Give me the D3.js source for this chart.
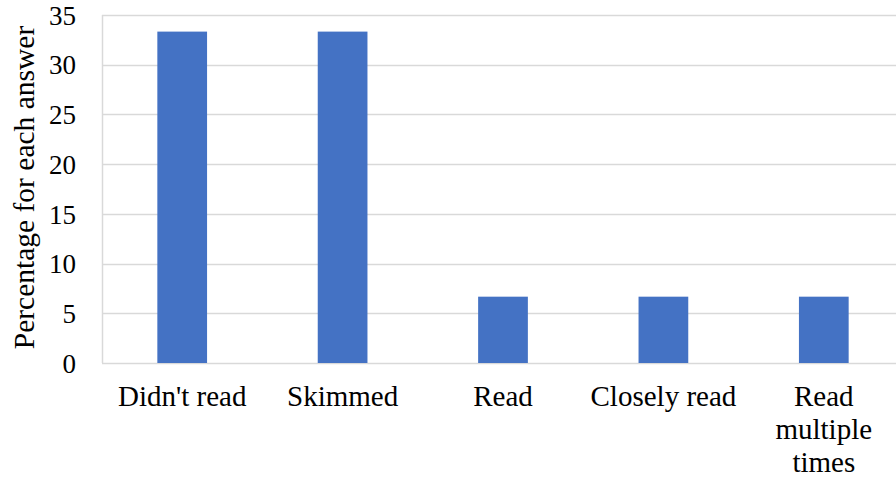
<!DOCTYPE html>
<html>
<head>
<meta charset="utf-8">
<script src="https://cdn.jsdelivr.net/npm/d3@7/dist/d3.min.js"></script>
<style>
  html, body { margin: 0; padding: 0; background: #fff; }
  svg { display: block; }
</style>
</head>
<body>
<svg id="chart" width="896" height="479"></svg>
<script>
// Reading behaviour survey: share of respondents per answer
const categories = ["Didn't read", "Skimmed", "Read", "Closely read", "Read multiple times"];
const categoryLines = [["Didn't read"], ["Skimmed"], ["Read"], ["Closely read"], ["Read", "multiple", "times"]];
const percentages = [33.33, 33.33, 6.67, 6.67, 6.67];
const yTicks = [0, 5, 10, 15, 20, 25, 30, 35];
const yTitle = "Percentage for each answer";

const FONT = '"Liberation Serif", "Times New Roman", serif';
const svg = d3.select("#chart")
  .attr("font-family", FONT)
  .style("font-family", FONT);
const plot = { left: 102, right: 904, top: 15, bottom: 363 };

const x = d3.scaleBand()
  .domain(categories)
  .range([plot.left, plot.right])
  .paddingInner(0.69)
  .paddingOuter(0.345);

const y = d3.scaleLinear()
  .domain([0, 35])
  .range([plot.bottom, plot.top]);

// Horizontal gridlines
svg.append("g")
  .selectAll("line")
  .data(yTicks)
  .join("line")
  .attr("x1", plot.left)
  .attr("x2", plot.right)
  .attr("y1", d => Math.round(y(d)) + 0.5)
  .attr("y2", d => Math.round(y(d)) + 0.5)
  .attr("stroke", "#d9d9d9")
  .attr("stroke-width", 1.5);

// Left frame edge
svg.append("line")
  .attr("x1", plot.left + 0.5).attr("x2", plot.left + 0.5)
  .attr("y1", y(35)).attr("y2", y(0))
  .attr("stroke", "#d9d9d9")
  .attr("stroke-width", 1.5);

// Bars
svg.append("g")
  .selectAll("rect")
  .data(categories)
  .join("rect")
  .attr("x", d => x(d))
  .attr("width", x.bandwidth())
  .attr("y", (d, i) => y(percentages[i]))
  .attr("height", (d, i) => y(0) - y(percentages[i]))
  .attr("fill", "#4472c4");

// Y-axis tick labels
const yAxis = d3.axisLeft(y).tickValues(yTicks).tickSize(0).tickPadding(0);
const yAxisG = svg.append("g")
  .attr("transform", `translate(76,0)`)
  .call(yAxis);
yAxisG.select(".domain").remove();
yAxisG.attr("font-family", FONT).attr("font-size", 27);
yAxisG.selectAll("text")
  .attr("font-family", FONT)
  .style("font-family", FONT)
  .style("font-size", "27px")
  .attr("fill", "#000")
  .attr("dy", "0.34em");

// X-axis category labels (multi-line where needed)
const xLabels = svg.append("g")
  .selectAll("text")
  .data(categories)
  .join("text")
  .attr("text-anchor", "middle")
  .attr("font-family", FONT)
  .style("font-family", FONT)
  .style("font-size", "29px")
  .attr("fill", "#000")
  .attr("x", d => x(d) + x.bandwidth() / 2)
  .attr("y", 406);
xLabels.each(function(d, i) {
  const t = d3.select(this);
  const cx = x(d) + x.bandwidth() / 2;
  categoryLines[i].forEach((line, j) => {
    t.append("tspan")
      .attr("x", cx)
      .attr("dy", j === 0 ? 0 : 33)
      .text(line);
  });
});

// Y-axis title
svg.append("text")
  .attr("transform", `translate(34, ${(y(0) + y(35)) / 2 - 1.5}) rotate(-90)`)
  .attr("text-anchor", "middle")
  .attr("font-family", FONT)
  .style("font-family", FONT)
  .style("font-size", "29.5px")
  .attr("fill", "#000")
  .text(yTitle);
</script>
</body>
</html>
